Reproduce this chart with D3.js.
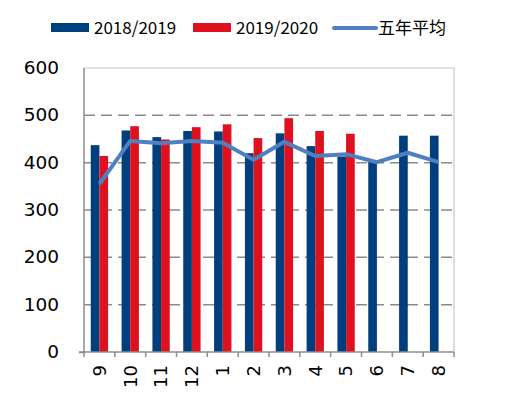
<!DOCTYPE html>
<html>
<head>
<meta charset="utf-8">
<script src="https://cdn.jsdelivr.net/npm/d3@7"></script>
<style>
  body { margin: 0; background: #fff; }
  text { font-family: "DejaVu Sans", sans-serif; fill: #000; }
  .legend text { font-family: "Noto Sans CJK SC", "Liberation Sans", sans-serif; }
</style>
</head>
<body>
<svg class="chart"></svg>
<script>
// Months of the marketing year
var months = ["9", "10", "11", "12", "1", "2", "3", "4", "5", "6", "7", "8"];
var season1819 = [437, 468, 454, 467, 466, 420, 462, 435, 413, 402, 457, 457];
var season1920 = [414, 477, 449, 475, 481, 452, 494, 467, 461, null, null, null];
var fiveYearAvg = [355, 446, 441, 446, 442, 406, 444, 414, 418, 401, 421, 401];
var yTicks = [0, 100, 200, 300, 400, 500, 600];

var width = 505, height = 399;
var plotLeft = 84, plotRight = 454, plotTop = 68, plotBottom = 352;

var navy = "#003f7d", red = "#e0111e", blue = "#4f81c2";

var chart = d3.select(".chart")
    .attr("width", width)
    .attr("height", height);

// Scales
var x = d3.scaleBand()
    .domain(months)
    .range([plotLeft, plotRight])
    .padding(0);
var sub = d3.scaleBand()
    .domain(["a", "b"])
    .range([0, x.bandwidth()])
    .paddingInner(0)
    .paddingOuter(0.78);
var y = d3.scaleLinear()
    .domain([0, 600])
    .range([plotBottom, plotTop]);

// Grid lines
chart.selectAll(".grid")
    .data(yTicks.filter(function(d) { return d > 0 && d < 600; }))
  .enter().append("line")
    .attr("x1", plotLeft).attr("x2", plotRight)
    .attr("y1", function(d) { return y(d); })
    .attr("y2", function(d) { return y(d); })
    .attr("stroke", "#8a8a8a")
    .attr("stroke-width", 1.5)
    .attr("stroke-dasharray", "11,6");

// Frame top/right
chart.append("path")
    .attr("d", "M" + plotLeft + "," + y(600) + "H" + plotRight + "V" + plotBottom)
    .attr("fill", "none")
    .attr("stroke", "#c8c8c8")
    .attr("stroke-width", 1.2);

// Bars
chart.selectAll(".bar1819")
    .data(season1819)
  .enter().append("rect")
    .attr("x", function(d, i) { return x(months[i]) + sub("a"); })
    .attr("y", function(d) { return y(d); })
    .attr("width", sub.bandwidth())
    .attr("height", function(d) { return plotBottom - y(d); })
    .attr("fill", navy);

chart.selectAll(".bar1920")
    .data(season1920)
  .enter().append("rect")
    .filter(function(d) { return d != null; })
    .attr("x", function(d, i) { return x(months[i]) + sub("b"); })
    .attr("y", function(d) { return y(d); })
    .attr("width", sub.bandwidth())
    .attr("height", function(d) { return plotBottom - y(d); })
    .attr("fill", red);

// Five-year average line
var line = d3.line()
    .x(function(d, i) { return x(months[i]) + x.bandwidth() / 2; })
    .y(function(d) { return y(d); });

chart.append("path")
    .datum(fiveYearAvg)
    .attr("d", line)
    .attr("fill", "none")
    .attr("stroke", blue)
    .attr("stroke-width", 4)
    .attr("stroke-linejoin", "round");

// Y axis
var yAxis = d3.axisLeft(y)
    .tickValues(yTicks)
    .tickSize(5)
    .tickPadding(20);
var gy = chart.append("g")
    .attr("transform", "translate(" + plotLeft + ",0)")
    .call(yAxis);
gy.select(".domain").attr("stroke", "#8c8c8c").attr("stroke-width", 1.5)
    .attr("d", "M0," + plotTop + "V" + plotBottom);
gy.selectAll(".tick line").attr("stroke", "#8c8c8c").attr("stroke-width", 1.5);
gy.selectAll(".tick").filter(function(d) { return d !== 0; }).select("line").remove();
gy.selectAll(".tick text")
    .attr("fill", "#000")
    .attr("dy", "0.3em")
    .style("font-size", "18.5px")
    .style("font-family", "'DejaVu Sans', sans-serif");

// X axis
var gx = chart.append("g")
    .attr("transform", "translate(0," + plotBottom + ")");
gx.append("line")
    .attr("x1", plotLeft - 5).attr("x2", plotRight)
    .attr("stroke", "#8c8c8c").attr("stroke-width", 1.5);
var bounds = months.map(function(m) { return x(m); }).concat([plotRight]);
gx.selectAll(".xt")
    .data(bounds)
  .enter().append("line")
    .attr("x1", function(d) { return d; })
    .attr("x2", function(d) { return d; })
    .attr("y1", 0).attr("y2", 5)
    .attr("stroke", "#8c8c8c").attr("stroke-width", 1.5);
gx.selectAll(".xl")
    .data(months)
  .enter().append("text")
    .attr("transform", function(d) {
        return "translate(" + (x(d) + x.bandwidth() / 2) + ",13) rotate(-90)";
    })
    .attr("text-anchor", "end")
    .attr("dy", "0.35em")
    .style("font-size", "18px")
    .text(function(d) { return d; });

// Legend
var legend = chart.append("g").attr("class", "legend");
var items = [
    { name: "2018/2019", color: navy, type: "bar", x: 51 },
    { name: "2019/2020", color: red, type: "bar", x: 193 },
    { name: "五年平均", color: blue, type: "line", x: 333 }
];
items.forEach(function(it) {
    if (it.type === "bar") {
        legend.append("rect")
            .attr("x", it.x).attr("y", 23)
            .attr("width", 38).attr("height", 9)
            .attr("fill", it.color);
    } else {
        legend.append("line")
            .attr("x1", it.x + 1).attr("x2", it.x + 43)
            .attr("y1", 28).attr("y2", 28)
            .attr("stroke", it.color).attr("stroke-width", 4)
            .attr("stroke-linecap", "round");
    }
    legend.append("text")
        .attr("x", it.x + (it.type === "bar" ? 43 : 45))
        .attr("y", 28)
        .attr("dy", "0.35em")
        .style("font-size", "17px")
        .text(it.name);
});
</script>
</body>
</html>
